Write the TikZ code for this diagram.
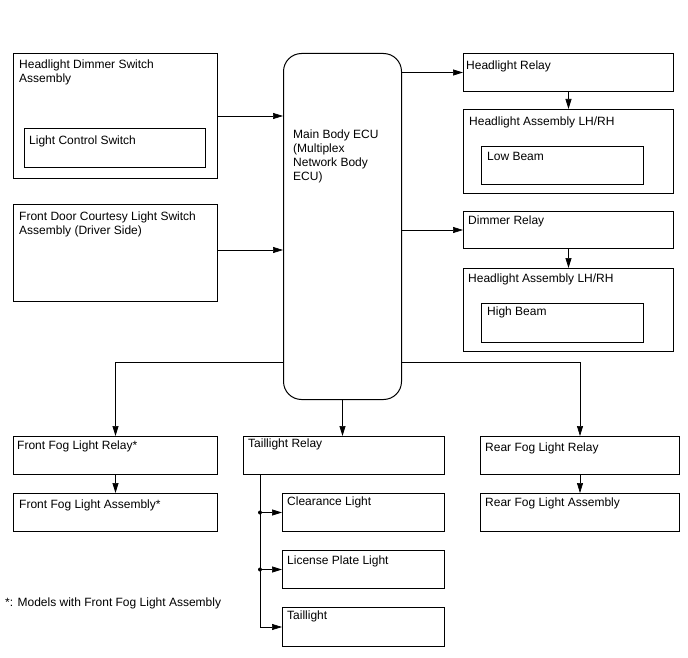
\documentclass[tikz,border=0pt]{standalone}
\usepackage{fontspec}
\setmainfont{Liberation Sans}
\usetikzlibrary{arrows.meta,positioning}

\begin{document}
\begin{tikzpicture}[x=1pt,y=-1pt,>={Triangle[length=10pt,width=6pt]},
  box/.style={draw, anchor=north west, inner sep=0pt, line width=1pt},
  txt/.style={anchor=north west, inner sep=0pt, align=left, font=\fontsize{12}{14}\selectfont},
  wire/.style={->, line width=0.7pt}]
  \useasboundingbox (0,0) rectangle (688,658);
  % switches
  \node (hds) [box, minimum width=204pt, minimum height=125pt] at (13,53) {};
  \node (hdst) [txt] at ([shift={(6,7)}]hds.north west) {Headlight Dimmer Switch\\Assembly};
  \node (lcs) [box, minimum width=181pt, minimum height=39pt] at (24,128) {};
  \node (lcst) [txt] at ([shift={(5,8)}]lcs.north west) {Light Control Switch};
  \node (fdc) [box, minimum width=204pt, minimum height=97pt] at (13,204) {};
  \node (fdct) [txt] at ([shift={(6,8)}]fdc.north west) {Front Door Courtesy Light Switch\\Assembly (Driver Side)};
  % ecu
  \node (ecu) [box, rounded corners=18pt, minimum width=118pt, minimum height=346pt] at (283,53) {};
  \node (ecut) [txt] at ([shift={(10,77)}]ecu.north west) {Main Body ECU\\(Multiplex\\Network Body\\ECU)};
  % headlights
  \node (hr) [box, minimum width=210pt, minimum height=38pt] at (463,53) {};
  \node (hrt) [txt] at ([shift={(3,8)}]hr.north west) {Headlight Relay};
  \node (ha1) [box, minimum width=210pt, minimum height=84pt] at (463,109) {};
  \node (ha1t) [txt] at ([shift={(6,8)}]ha1.north west) {Headlight Assembly LH/RH};
  \node (lb) [box, minimum width=162pt, minimum height=38pt] at (481,146) {};
  \node (lbt) [txt] at ([shift={(6,6)}]lb.north west) {Low Beam};
  \node (dr) [box, minimum width=210pt, minimum height=37pt] at (463,211) {};
  \node (drt) [txt] at ([shift={(5,5)}]dr.north west) {Dimmer Relay};
  \node (ha2) [box, minimum width=210pt, minimum height=83pt] at (463,268) {};
  \node (ha2t) [txt] at ([shift={(5,6)}]ha2.north west) {Headlight Assembly LH/RH};
  \node (hb) [box, minimum width=162pt, minimum height=39pt] at (481,303) {};
  \node (hbt) [txt] at ([shift={(6,4)}]hb.north west) {High Beam};
  % fog and tail lights
  \node (ffr) [box, minimum width=204pt, minimum height=38pt] at (13,436) {};
  \node (ffrt) [txt] at ([shift={(4,5)}]ffr.north west) {Front Fog Light Relay*};
  \node (ffa) [box, minimum width=204pt, minimum height=38pt] at (13,493) {};
  \node (ffat) [txt] at ([shift={(6,7)}]ffa.north west) {Front Fog Light Assembly*};
  \node (tr) [box, minimum width=201pt, minimum height=38pt] at (243,436) {};
  \node (trt) [txt] at ([shift={(5,3)}]tr.north west) {Taillight Relay};
  \node (cl) [box, minimum width=162pt, minimum height=38pt] at (282,493) {};
  \node (clt) [txt] at ([shift={(5,4)}]cl.north west) {Clearance Light};
  \node (lp) [box, minimum width=162pt, minimum height=38pt] at (282,550) {};
  \node (lpt) [txt] at ([shift={(5,6)}]lp.north west) {License Plate Light};
  \node (tl) [box, minimum width=162pt, minimum height=39pt] at (282,607) {};
  \node (tlt) [txt] at ([shift={(5,4)}]tl.north west) {Taillight};
  \node (rfr) [box, minimum width=199pt, minimum height=38pt] at (480,436) {};
  \node (rfrt) [txt] at ([shift={(5,7)}]rfr.north west) {Rear Fog Light Relay};
  \node (rfa) [box, minimum width=199pt, minimum height=38pt] at (480,493) {};
  \node (rfat) [txt] at ([shift={(5,5)}]rfa.north west) {Rear Fog Light Assembly};
  \node (note) [txt] at (5,598) {*: Models with Front Fog Light Assembly};
  % connections
  \draw[wire] (hds.east) -- (hds.east -| ecu.west);
  \draw[wire] ([yshift=3pt]fdc.east) -- ([yshift=3pt]fdc.east -| ecu.west);
  \draw[wire] (hr.west -| ecu.east) -- (hr.west);
  \draw[wire] (dr.west -| ecu.east) -- (dr.west);
  \draw[wire] (hr.south) -- (ha1.north);
  \draw[wire] (dr.south) -- (ha2.north);
  \draw[wire] ([yshift=-136pt]ecu.west) -| (ffr.north);
  \draw[wire] ([yshift=-136pt]ecu.east) -| (rfr.north);
  \draw[wire] (ecu.south) -- (ecu.south |- tr.north);
  \draw[wire] (ffr.south) -- (ffa.north);
  \draw[wire] (rfr.south) -- (rfa.north);
  \coordinate (bus) at ([xshift=17pt]tr.south west);
  \draw[wire] (bus) |- (tl.west);
  \draw[wire] (bus |- cl.west) -- (cl.west);
  \draw[wire] (bus |- lp.west) -- (lp.west);
  \fill (bus |- cl.west) circle (2pt);
  \fill (bus |- lp.west) circle (2pt);
\end{tikzpicture}
\end{document}
